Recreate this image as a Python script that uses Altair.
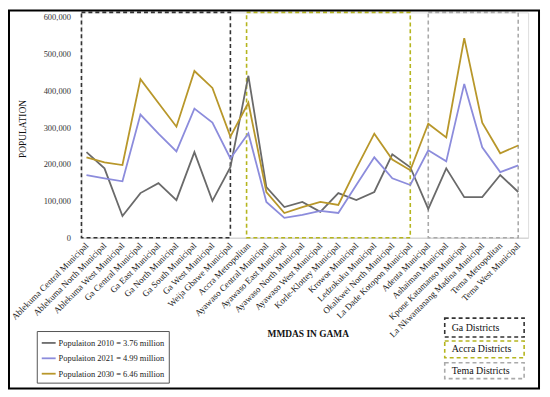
import json
import altair as alt
import pandas as pd

categories = [
    "Ablekuma Central Municipal", "Ablekuma North Municipal", "Ablekuma West Municipal",
    "Ga Central Municipal", "Ga East Municipal", "Ga North Municipal", "Ga South Municipal",
    "Ga West Municipal", "Weija Gbawe Municipal", "Accra Metropolitan",
    "Ayawaso Central Municipal", "Ayawaso East Municipal", "Ayawaso North Municipal",
    "Ayawaso West Municipal", "Korle-Klottey Municipal", "Krowor Municipal",
    "Ledzokuku Municipal", "Okaikwei North Municipal", "La Dade Kotopon Municipal",
    "Adenta Municipal", "Ashaiman Municipal", "Kpone Katamanso Municipal",
    "La Nkwantanang Madina Municipal", "Tema Metropolitan", "Tema West Municipal",
]
pop2010 = [232000, 188000, 59000, 121000, 148000, 102000, 232000, 100000, 191000, 439000,
           137000, 83000, 97000, 70000, 121000, 102000, 124000, 226000, 191000, 78000,
           188000, 110000, 110000, 170000, 124000]
pop2021 = [170000, 161000, 153000, 334000, 282000, 234000, 350000, 312000, 215000, 283000,
           97000, 54000, 62000, 73000, 67000, 143000, 218000, 161000, 143000, 237000,
           207000, 417000, 245000, 178000, 196000]
pop2030 = [218000, 204000, 197000, 430000, 365000, 301000, 452000, 406000, 274000, 366000,
           124000, 67000, 83000, 97000, 89000, 188000, 282000, 212000, 183000, 309000,
           272000, 541000, 312000, 229000, 250000]
series_names = ["Populaiton 2010 = 3.76 million", "Populaiton 2021 = 4.99 million",
                "Population 2030 = 6.46 million"]
group_names = ["Ga Districts", "Accra Districts", "Tema Districts"]
group_counts = [9, 10, 6]

FONT = "Liberation Serif"
series_colors = ["#6a6a6a", "#8c8cdc", "#b8972a"]
group_colors = ["#333333", "#b5b51e", "#aaaaaa"]

X_MIN, X_MAX = 0.72, 25.55
Y_MAX = 610800

rows = []
for name, vals in zip(series_names, [pop2010, pop2021, pop2030]):
    for i, v in enumerate(vals):
        rows.append({"idx": i + 1, "value": v, "series": name})
df = pd.DataFrame(rows)

box_rows = []
start = 1
for gi, (g, n) in enumerate(zip(group_names, group_counts)):
    end = start + n - 1
    x0 = X_MIN if gi == 0 else (start - 0.1 if gi == 1 else start)
    box_rows.append({"group": g, "x0": x0, "x1": end, "y0": 0, "y1": Y_MAX})
    start = end + 1
boxes = pd.DataFrame(box_rows)

label_expr = json.dumps(categories) + "[datum.value - 1]"

xscale = alt.Scale(domain=[X_MIN, X_MAX], nice=False, zero=False)
yscale = alt.Scale(domain=[0, Y_MAX], nice=False)

x_axis = alt.Axis(values=list(range(1, 26)), labelExpr=label_expr, labelAngle=-45,
                  labelAlign="right", labelBaseline="middle", labelPadding=6,
                  labelFont=FONT, labelFontSize=9, labelColor="#222",
                  ticks=False, grid=False, domainColor="#cfcfcf", domainWidth=1,
                  labelOverlap=False, labelBound=False, labelLimit=300,
                  title="MMDAS IN GAMA", titleFont=FONT, titleFontSize=9.5,
                  titleFontWeight="bold", titleColor="#111",
                  titleX=228, titleY=97, titleAlign="center", titleBaseline="middle")
y_axis = alt.Axis(values=[0, 100000, 200000, 300000, 400000, 500000, 600000],
                  format=",.0f", ticks=False, grid=False, domain=False,
                  labelFont=FONT, labelFontSize=8.5, labelColor="#333", labelPadding=11,
                  title="POPULATION", titleFont=FONT, titleFontSize=9.5,
                  titleFontWeight="normal", titleColor="#111",
                  titleX=-59, titleY=117, titleAngle=-90,
                  titleAlign="center", titleBaseline="middle")

box_layer = alt.Chart(boxes).mark_rect(fill=None, strokeWidth=1.6, strokeDash=[4, 3]).encode(
    x=alt.X("x0:Q", scale=xscale, axis=x_axis),
    x2="x1:Q",
    y=alt.Y("y0:Q", scale=yscale, axis=y_axis),
    y2="y1:Q",
    stroke=alt.Stroke("group:N", scale=alt.Scale(domain=group_names, range=group_colors), legend=None),
)

leg = dict(title=None, orient="none", legendX=-45, legendY=321,
           strokeColor="#555", fillColor="white", padding=4,
           symbolType="stroke", symbolSize=196, rowPadding=2.5,
           labelFont=FONT, labelFontSize=8.5, labelColor="#222", labelOffset=2)

lines = alt.Chart(df).mark_line().encode(
    x=alt.X("idx:Q", scale=xscale, axis=x_axis),
    y=alt.Y("value:Q", scale=yscale, axis=y_axis),
    color=alt.Color("series:N", scale=alt.Scale(domain=series_names, range=series_colors),
                    legend=alt.Legend(**leg)),
    strokeWidth=alt.StrokeWidth("series:N",
                                scale=alt.Scale(domain=series_names, range=[1.8, 1.8, 2.8]),
                                legend=alt.Legend(**leg)),
    order=alt.Order("idx:Q"),
)

dummy = pd.DataFrame({"d": [0]})
frame = alt.Chart(dummy).mark_rect(fill=None, stroke="black", strokeWidth=2).encode(
    x=alt.value(-73), x2=alt.value(461), y=alt.value(-2), y2=alt.value(379)
)

legend_layers = []
key_boxes = [(308, 327), (331, 348), (353, 369)]
for (g, c), (yt, yb) in zip(zip(group_names, group_colors), key_boxes):
    legend_layers.append(
        alt.Chart(dummy).mark_rect(fill="white", stroke=c, strokeWidth=1.6, strokeDash=[4, 3]).encode(
            x=alt.value(366), x2=alt.value(446), y=alt.value(yt), y2=alt.value(yb)))
    legend_layers.append(
        alt.Chart(dummy).mark_text(text=g, font=FONT, fontSize=10, color="#111",
                                   fontWeight="normal", align="left", baseline="middle").encode(
            x=alt.value(373), y=alt.value((yt + yb) / 2)))

chart = alt.layer(box_layer, lines, frame, *legend_layers).resolve_scale(
    stroke="independent"
).properties(
    width=450, height=227,
    autosize=alt.AutoSizeParams(type="none"),
    padding={"left": 74, "top": 3, "right": 14, "bottom": 155},
).configure_view(stroke=None).configure(background="white")

chart.save("out.html", embed_options={"renderer": "svg", "actions": False})
